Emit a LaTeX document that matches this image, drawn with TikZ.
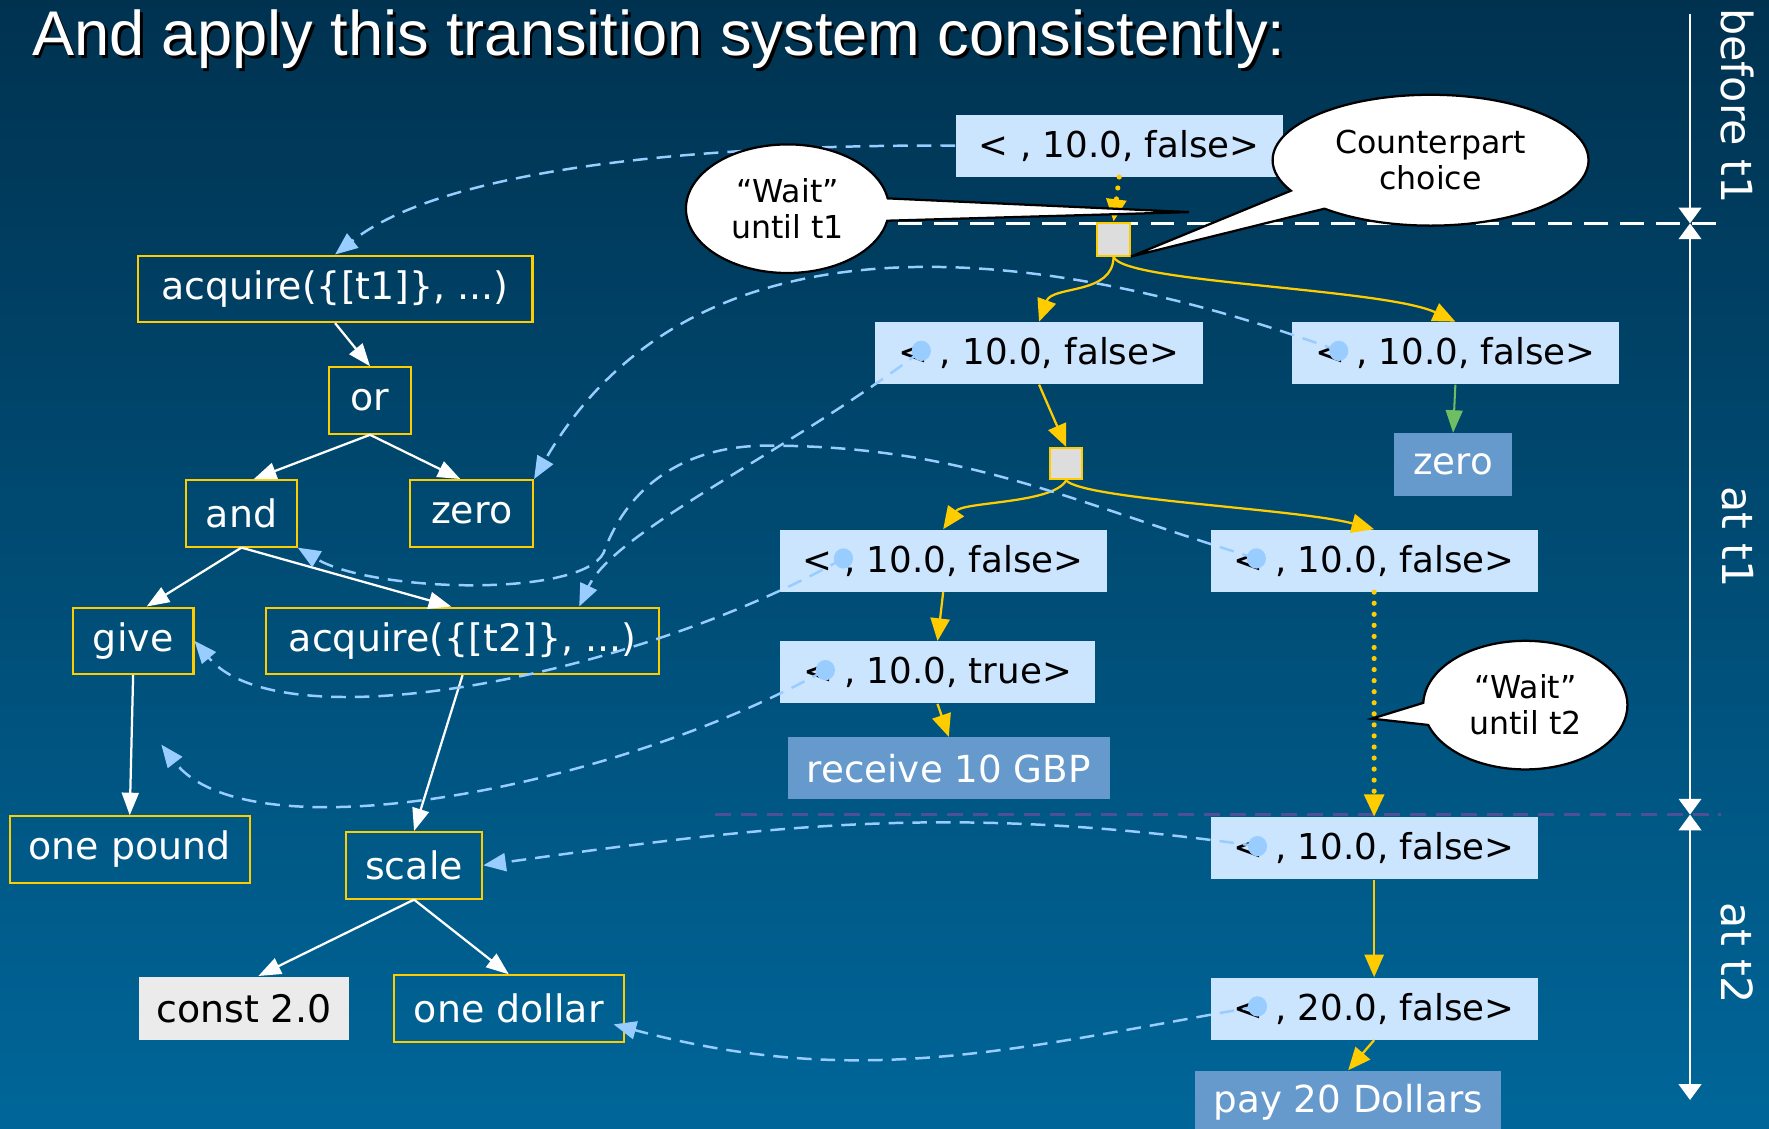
\documentclass[tikz,border=0pt]{standalone}
\usepackage{fontspec}
\setmainfont{DejaVu Sans}
\newfontfamily\titlefont{Liberation Sans}
\usetikzlibrary{arrows.meta, shapes.geometric, shapes.callouts}

\definecolor{bgtop}{RGB}{0,50,80}
\definecolor{bgbottom}{RGB}{0,102,153}
\definecolor{gold}{RGB}{255,204,0}
\definecolor{statefill}{RGB}{204,229,255}
\definecolor{linkblue}{RGB}{153,204,255}
\definecolor{resultfill}{RGB}{102,153,204}
\definecolor{constfill}{RGB}{235,235,235}
\definecolor{choicefill}{RGB}{221,221,221}
\definecolor{leafgreen}{RGB}{110,190,100}
\definecolor{seppurple}{RGB}{78,80,150}

\begin{document}
\begin{tikzpicture}[x=0.5pt, y=0.5pt, >={Triangle[length=7pt, width=10pt]},
  heading/.style={anchor=base west, inner sep=0pt, font=\titlefont\fontsize{28}{32}\selectfont},
  tree/.style={draw=gold, line width=0.9pt, text=white, minimum height=29.5pt, inner sep=0pt, font=\fontsize{16.8}{20}\selectfont},
  state/.style={fill=statefill, text=black, minimum width=145pt, minimum height=27.5pt, inner sep=0pt, font=\fontsize{15.8}{18}\selectfont},
  result/.style={fill=resultfill, text=white, minimum height=27.5pt, inner sep=0pt, font=\fontsize{16.5}{19}\selectfont},
  choice/.style={draw=gold, fill=choicefill, line width=0.9pt, minimum width=14.5pt, minimum height=14.5pt, inner sep=0pt},
  counterpart/.style={ellipse, fill=linkblue, minimum width=8.5pt, minimum height=9pt, inner sep=0pt},
  subterm/.style={draw=white, line width=1pt, -{Triangle[length=10pt, width=7.5pt]}},
  move/.style={draw=gold, line width=1pt, -{Triangle[length=10pt, width=8.5pt]}},
  waitmove/.style={draw=gold, line width=2.3pt, line cap=round, dash pattern=on 0pt off 4.9pt, -{Triangle[length=10pt, width=8.5pt]}},
  leafmove/.style={draw=leafgreen, line width=0.9pt, -{Triangle[length=10pt, width=7.5pt]}},
  link/.style={draw=linkblue, line width=1.1pt, dash pattern=on 6.5pt off 4pt, -{Triangle[length=10pt, width=8pt]}},
  note/.style={ellipse callout, draw=black, fill=white, line width=1pt, inner sep=0pt, align=center, text=black, callout pointer arc=20, font=\fontsize{14}{16}\selectfont},
  timeline/.style={draw=white, line width=1pt},
  period/.style={rotate=-90, text=white, font=\fontsize{19}{22}\selectfont}]

  \shade[top color=bgtop, bottom color=bgbottom] (0,0) rectangle (1568,-1000);
  \useasboundingbox (0,0) rectangle (1568,-1000);

  \node[heading, text=black] (titleshade) at (30.5,-51.5) {And apply this transition system consistently:};
  \node[heading, text=white] (title) at (28,-49) {And apply this transition system consistently:};

  \draw[white, line width=1.3pt, dash pattern=on 10.5pt off 5.5pt] (700,-198) -- (1525,-198);
  \draw[seppurple, line width=1.1pt, dash pattern=on 7pt off 4.4pt] (634,-722) -- (1525,-722);

  \coordinate (axtop) at (1498,-12);
  \coordinate (axt1) at (1498,-198);
  \coordinate (axt2) at (1498,-722);
  \coordinate (axend) at (1498,-975);
  \draw[timeline, ->] (axtop) -- (axt1);
  \draw[timeline, <->] (axt1) -- (axt2);
  \draw[timeline, <->] (axt2) -- (axend);
  \node[period] (before) at (1540,-94) {before t1};
  \node[period] (att1) at (1540,-476) {at t1};
  \node[period] (att2) at (1540,-845) {at t2};

  \node[tree, minimum width=175pt] (acq1) at (297,-256) {acquire(\{[t1]\}, ...)};
  \node[tree, minimum width=36pt] (orop) at (328,-355) {or};
  \node[tree, minimum width=49pt] (andop) at (214,-455) {and};
  \node[tree, minimum width=54.5pt] (zeroL) at (418,-455) {zero};
  \node[tree, minimum width=53.5pt] (give) at (118,-568) {give};
  \node[tree, minimum width=174.5pt] (acq2) at (410,-568) {acquire(\{[t2]\}, ...)};
  \node[tree, minimum width=106.5pt] (onepound) at (115,-753) {one pound};
  \node[tree, minimum width=60.5pt] (scale) at (367,-767) {scale};
  \node[tree, draw=none, fill=constfill, text=black, minimum width=93pt, minimum height=28pt] (const) at (216,-894) {const 2.0};
  \node[tree, minimum width=102pt] (onedollar) at (451,-894) {one dollar};

  \node[state] (S0) at (992,-129) {< , 10.0, false>};
  \node[choice] (c1) at (987,-212) {};
  \node[state] (S1a) at (921,-313) {< , 10.0, false>};
  \node[state] (S1b) at (1290,-313) {< , 10.0, false>};
  \node[result, minimum width=52.5pt, minimum height=28pt] (zero2) at (1288,-412) {zero};
  \node[choice, minimum width=14pt, minimum height=14pt] (c2) at (945,-411) {};
  \node[state] (S2a) at (836,-497) {< , 10.0, false>};
  \node[state] (S2b) at (1218,-497) {< , 10.0, false>};
  \node[state, minimum width=140pt] (S3a) at (831,-596) {< , 10.0, true>};
  \node[result, minimum width=142.5pt] (recv) at (841,-681) {receive 10 GBP};
  \node[state] (S4) at (1218,-752) {< , 10.0, false>};
  \node[state] (S5) at (1218,-894) {< , 20.0, false>};
  \node[result, minimum width=135.5pt, minimum height=28pt] (pay) at (1195,-977) {pay 20 Dollars};

  \node[counterpart] (d1a) at ([xshift=20.5pt, yshift=1pt]S1a.west) {};
  \node[counterpart] (d1b) at ([xshift=21pt, yshift=1pt]S1b.west) {};
  \node[counterpart] (d2a) at ([xshift=28.5pt, yshift=1pt]S2a.west) {};
  \node[counterpart] (d2b) at ([xshift=20.5pt, yshift=1pt]S2b.west) {};
  \node[counterpart] (d3a) at ([xshift=20.5pt, yshift=1pt]S3a.west) {};
  \node[counterpart] (d4) at ([xshift=21pt, yshift=1pt]S4.west) {};
  \node[counterpart] (d5) at ([xshift=21pt, yshift=1pt]S5.west) {};

  \draw[subterm] (acq1.south) -- (orop.north);
  \draw[subterm] (orop.south) -- ([xshift=5.5pt]andop.north);
  \draw[subterm] (orop.south) -- ([xshift=-5pt]zeroL.north);
  \draw[subterm] (andop.south) -- ([xshift=6pt]give.north);
  \draw[subterm] (andop.south) -- ([xshift=-5pt]acq2.north);
  \draw[subterm] (give.south) -- (onepound.north);
  \draw[subterm] (acq2.south) -- (scale.north);
  \draw[subterm] (scale.south) -- ([xshift=6.5pt]const.north);
  \draw[subterm] (scale.south) -- (onedollar.north);

  \draw[waitmove] (S0.south) -- (c1.north);
  \draw[move] (c1.south) to [out=-90, in=70] (S1a.north);
  \draw[move] (c1.south) to [out=-75, in=155, out distance=12pt, in distance=35pt] (S1b.north);
  \draw[leafmove] (S1b.south) -- (zero2.north);
  \draw[move] (S1a.south) -- (c2.north);
  \draw[move] (c2.south) to [out=-120, in=55, out distance=12pt, in distance=15pt] (S2a.north);
  \draw[move] (c2.south) to [out=-45, in=165, out distance=12pt, in distance=35pt] (S2b.north);
  \draw[move] (S2a.south) -- (S3a.north);
  \draw[move] (S3a.south) -- (recv.north);
  \draw[waitmove] (S2b.south) -- (S4.north);
  \draw[move] (S4.south) -- (S5.north);
  \draw[move] (S5.south) -- (pay.north);

  \coordinate (giveend) at (143,-660);
  \draw[link] (S0.west) .. controls (560,-128) and (380,-160) .. (acq1.north);
  \draw[link] (d1b.center) to [out=160, in=60] (zeroL.north east);
  \draw[link] (d1a.center) .. controls (700,-400) and (545,-470) .. ([xshift=-36pt]acq2.north east);
  \draw[link] (d2b.center) to [out=163, in=0] (680,-395) to [out=180, in=70] (535,-490)
    .. controls (515,-530) and (330,-525) .. (andop.south east);
  \draw[link] (d2a.center) .. controls (560,-600) and (250,-660) .. (give.east);
  \draw[link] (d3a.center) .. controls (540,-700) and (220,-760) .. (giveend);
  \draw[link] (d4.center) to [out=172, in=8] (scale.east);
  \draw[link] (d5.center) to [out=190, in=-15] ([xshift=-5pt, yshift=-7pt]onedollar.east);

  \coordinate (t1wait) at (1054,-188);
  \coordinate (t2wait) at (1216,-637);
  \node[note, minimum width=90pt, minimum height=57pt, callout absolute pointer={(t1wait)}] (wait1) at (698,-185) {“Wait”\\until t1};
  \node[note, minimum width=140pt, minimum height=58pt, callout absolute pointer={(c1.south east)}] (pick) at (1268,-142) {Counterpart\\choice};
  \node[note, minimum width=90.5pt, minimum height=57pt, callout absolute pointer={(t2wait)}] (wait2) at (1352,-625) {“Wait”\\until t2};

\end{tikzpicture}
\end{document}
